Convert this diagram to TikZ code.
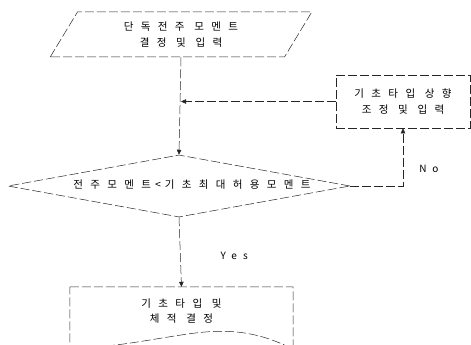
\documentclass[tikz,border=0pt]{standalone}
\usepackage{fontspec}
\newfontfamily\kr[LetterSpace=70]{Noto Sans CJK KR}
\newfontfamily\krl[LetterSpace=60]{Noto Sans CJK KR}
\usetikzlibrary{shapes.geometric,arrows.meta}
\tikzset{
  ln/.style={line width=0.5pt, draw=black!85, dash pattern=on 9pt off 3pt},
  arr/.style={ln, -{Triangle[length=5pt,width=4.5pt]}},
  txt/.style={font=\kr\fontsize{10.5}{15.5}\selectfont, align=center},
  lbl/.style={font=\krl\fontsize{10}{12}\selectfont, inner sep=0pt}
}
\begin{document}
\begin{tikzpicture}[x=1pt,y=-1pt]
\useasboundingbox (0,0) rectangle (471,345);
% input parallelogram
\node[ln, shape=trapezium, trapezium left angle=59, trapezium right angle=121,
      trapezium stretches=true, minimum width=262, minimum height=45, inner sep=0pt, txt]
      (para) at (181,34.5) {단독전주 모멘트\\결정 및 입력};
% decision diamond
\node[ln, shape=diamond, aspect=5.5, minimum width=342, minimum height=62, inner sep=0pt, txt]
      (dia) at (179,186) {\raisebox{3pt}{\hspace*{26pt}전주모멘트\hspace{4pt}<\hspace{4pt}기초최대허용모멘트}};
% adjustment box
\node[ln, rectangle, minimum width=134, minimum height=53, inner sep=0pt, txt]
      (box) at (403,101.5) {기초타입 상향\\조정 및 입력};
% document shape (result)
\node[rectangle, minimum width=223, minimum height=50, inner sep=0pt, txt]
      (doc) at (181.5,312) {\raisebox{4pt}{\begin{tabular}{@{}c@{}}기초타입 및\\[-1pt]체적 결정\end{tabular}}};
\draw[ln] (doc.north west) -- (doc.north east) -- ([yshift=-12pt]doc.south east)
   .. controls (255,330) and (225,328) .. (181,335)
   .. controls (135,342) and (100,350) .. ([yshift=-8pt]doc.south west) -- cycle;
% connectors
\draw[arr] (para.south) -- (dia.north);
\draw[arr] (box.west) -- (box.west -| para.south);
\draw[arr] (dia.south) -- node[lbl, pos=0.55, right=40pt] {Yes} (doc.north);
\draw[arr] (dia.east) -- (dia.east -| box.south) -- node[lbl, pos=0.3, right=16pt] {No} (box.south);
\end{tikzpicture}
\end{document}
